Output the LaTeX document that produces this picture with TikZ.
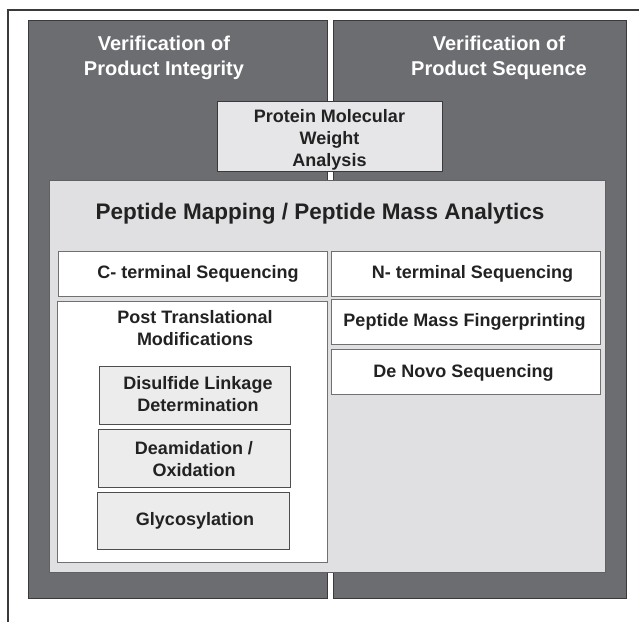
\documentclass[tikz,border=0pt]{standalone}
\usepackage{fontspec}
\setmainfont{Liberation Sans}
\definecolor{darkpanel}{HTML}{6C6D71}
\definecolor{lightpanel}{HTML}{E0E0E2}
\definecolor{greybox}{HTML}{E6E6E8}
\definecolor{subbox}{HTML}{ECECEC}
\definecolor{edge}{HTML}{3A3A3C}
\definecolor{softedge}{HTML}{707070}
\definecolor{inktext}{HTML}{222222}
\tikzset{
  area/.style={rectangle, anchor=north west, inner sep=0pt, outer sep=0pt},
  darkarea/.style={area, fill=darkpanel, draw=edge, line width=0.8pt},
  lightarea/.style={area, fill=lightpanel, draw=edge!80, line width=0.9pt},
  whitebox/.style={area, fill=white, draw=softedge, line width=1pt},
  greyframe/.style={area, fill=greybox, draw=edge, line width=0.9pt},
  itembox/.style={area, fill=subbox, draw=edge!90, line width=0.9pt},
  headtext/.style={text=white, font=\bfseries\fontsize{20}{24.5}\selectfont, align=center},
  titletext/.style={text=inktext, font=\bfseries\fontsize{22.5}{26}\selectfont, align=center},
  itemtext/.style={text=inktext, font=\bfseries\fontsize{18}{22}\selectfont, align=center},
}
\begin{document}
\begin{tikzpicture}[x=1pt,y=-1pt]
  \useasboundingbox (0,0) rectangle (639,622);
  % page frame: top and left rules
  \coordinate (ftl) at (8,10);
  \coordinate (ftr) at (639,10);
  \coordinate (fbl) at (8,622);
  \draw[edge, line width=1.4pt] (ftr) -- (ftl) -- (fbl);

  % two verification columns
  \node[darkarea, minimum width=299pt, minimum height=578pt] (integrity) at (28,20) {};
  \node[darkarea, minimum width=293pt, minimum height=578pt] (sequence) at (333,20) {};
  \node[headtext] (integrityhead) at (164,58) {Verification of\\Product Integrity};
  \node[headtext] (sequencehead) at (499,58) {Verification of\\Product Sequence};

  % molecular weight box straddling both columns
  \node[greyframe, minimum width=225pt, minimum height=70pt] (mw) at (217,101) {};
  \node[itemtext] (mwtext) at (329.5,140) {Protein Molecular\\Weight\\Analysis};

  % peptide mapping area
  \node[lightarea, minimum width=556pt, minimum height=392pt] (mapping) at (49.5,180.5) {};
  \node[titletext] (mappingtitle) at (320,214) {Peptide Mapping / Peptide Mass Analytics};

  % left column boxes
  \node[whitebox, minimum width=269pt, minimum height=45pt] (cterm) at (58,251) {};
  \node[itemtext] (ctermtext) at (198,274) {C- terminal Sequencing};
  \node[whitebox, minimum width=270pt, minimum height=261pt] (ptm) at (57.5,301.5) {};
  \node[itemtext] (ptmtext) at (195,328.5) {Post Translational\\Modifications};
  \node[itembox, minimum width=191pt, minimum height=57.5pt] (disulfide) at (99.5,366.5) {};
  \node[itemtext] (disulfidetext) at (198,394.5) {Disulfide Linkage\\Determination};
  \node[itembox, minimum width=192pt, minimum height=57.5pt] (deamid) at (98,429.5) {};
  \node[itemtext] (deamidtext) at (194,459) {Deamidation /\\Oxidation};
  \node[itembox, minimum width=192pt, minimum height=57.5pt] (glyco) at (97,492) {};
  \node[itemtext] (glycotext) at (195,521) {Glycosylation};

  % right column boxes
  \node[whitebox, minimum width=269pt, minimum height=45pt] (nterm) at (331,251) {};
  \node[itemtext] (ntermtext) at (472.5,274) {N- terminal Sequencing};
  \node[whitebox, minimum width=269pt, minimum height=45pt] (pmf) at (331,299) {};
  \node[itemtext] (pmftext) at (464.5,322) {Peptide Mass Fingerprinting};
  \node[whitebox, minimum width=269pt, minimum height=45pt] (denovo) at (331,349) {};
  \node[itemtext] (denovotext) at (463.5,373) {De Novo Sequencing};
\end{tikzpicture}
\end{document}
